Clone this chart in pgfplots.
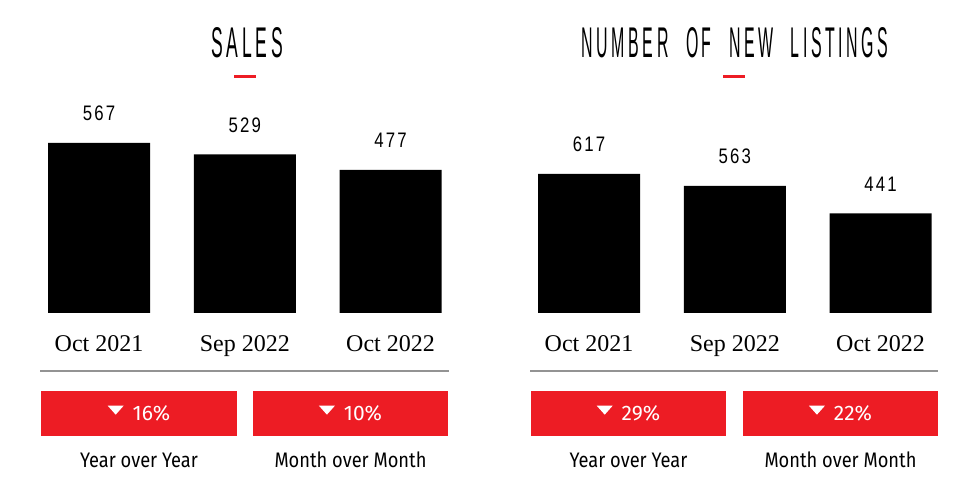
\documentclass[border=0pt]{standalone}
\usepackage{fontspec}
\usepackage{pgfplots}
\pgfplotsset{compat=1.18}
\setmainfont{Liberation Serif}
\newfontfamily\titlefont{Liberation Sans}[LetterSpace=22]
\newfontfamily\numfont{Liberation Sans}[FakeStretch=0.8,LetterSpace=10]
\newfontfamily\dinfont{Fira Sans}
\newfontfamily\capfont{Fira Sans}[FakeStretch=0.87]
\definecolor{boxred}{HTML}{ED1C24}
\pgfplotsset{panel/.style={
  scale only axis, width=410pt, height=213pt, ymin=0,
  xmin=-0.405, xmax=2.408,
  ybar, bar width=102pt,
  axis line style={draw=none}, ytick=\empty, xtick={0,1,2},
  xticklabels={Oct 2021,Sep 2022,Oct 2022}, major tick length=0pt,
  xticklabel style={anchor=base, yshift=-39pt, font=\fontsize{24}{28}\selectfont},
  /pgf/number format/assume math mode=true,
  nodes near coords,
  every node near coord/.append style={anchor=base, yshift=22pt, font=\numfont\fontsize{21}{24}\selectfont, text=black},
  clip=false, anchor=south west,
}}
\newcommand{\downbox}[3]{%
  \fill[boxred] (#1pt,54pt) rectangle (#2pt,99pt);
  \node[text=white, font=\dinfont\fontsize{21}{24}\selectfont, inner sep=0pt] at ({(#1+#2)/2*1pt},76.5pt)
    {\tikz[baseline=0pt]\fill[white] (0,15pt)--(16pt,15pt)--(8pt,6pt)--cycle;\hspace{9pt}#3\%};
}
\begin{document}
\begin{tikzpicture}
\fill[white] (0,0) rectangle (980pt,490pt);
% titles
\node[anchor=base, inner sep=0pt] at (247pt,432pt) {\resizebox{72pt}{30pt}{\titlefont SALES}};
\node[anchor=base, inner sep=0pt] at (735pt,432pt) {\resizebox{306pt}{30pt}{\titlefont NUMBER\hspace{1.1em}OF\hspace{1.1em}NEW\hspace{1.1em}LISTINGS}};
\draw[boxred, line width=3pt] (234pt,413pt) -- (256pt,413pt);
\draw[boxred, line width=3pt] (723pt,413pt) -- (745pt,413pt);
% left panel
\begin{axis}[panel, at={(40pt,177pt)}, ymax=710]
\addplot[fill=black, draw=none] coordinates {(0,567) (1,529) (2,477)};
\end{axis}
% right panel
\begin{axis}[panel, at={(530pt,177pt)}, ymax=944]
\addplot[fill=black, draw=none] coordinates {(0,617) (1,563) (2,441)};
\end{axis}
% separators
\draw[gray!85, line width=1.5pt] (40pt,119pt) -- (449pt,119pt);
\draw[gray!85, line width=1.5pt] (530pt,119pt) -- (938pt,119pt);
% boxes
\downbox{41}{237}{16}
\downbox{253}{448}{10}
\downbox{531}{726}{29}
\downbox{743}{938}{22}
% captions
\begin{scope}[font=\capfont\fontsize{21}{24}\selectfont]
\node[anchor=base, inner sep=0pt] at (139pt,23pt) {Year over Year};
\node[anchor=base, inner sep=0pt] at (350.5pt,23pt) {Month over Month};
\node[anchor=base, inner sep=0pt] at (628.5pt,23pt) {Year over Year};
\node[anchor=base, inner sep=0pt] at (840.5pt,23pt) {Month over Month};
\end{scope}
\end{tikzpicture}
\end{document}
